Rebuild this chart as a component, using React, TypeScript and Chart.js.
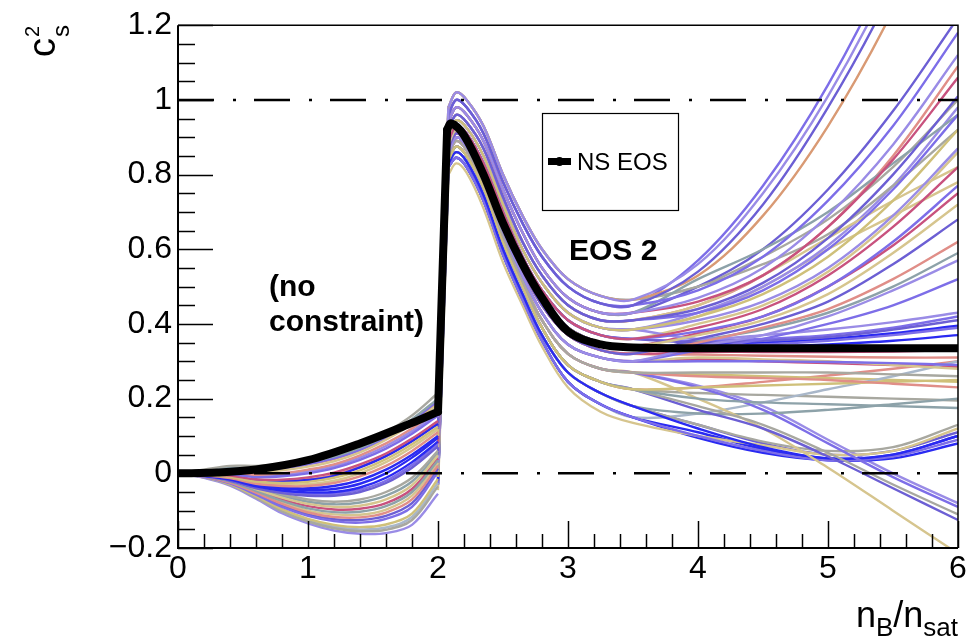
import React, { useEffect, useRef } from 'react';
import { Chart, registerables } from 'chart.js';

Chart.register(...registerables);

const FONT = '"Liberation Sans", Arial, Helvetica, sans-serif';

// ---- axes ----
const xMin = 0;
const xMax = 6;
const yMin = -0.2;
const yMax = 1.2;
const xTicks = [0, 1, 2, 3, 4, 5, 6];
const xTickLabels = ['0', '1', '2', '3', '4', '5', '6'];
const yTicks = [-0.2, 0, 0.2, 0.4, 0.6, 0.8, 1, 1.2];
const yTickLabels = ['\u22120.2', '0', '0.2', '0.4', '0.6', '0.8', '1', '1.2'];
const xMinorStep = 0.2;
const yMinorStep = 0.05;

// ---- dash-dot reference lines ----
const refLineX = [0, 6];
const refLineAtOne = [1, 1];
const refLineAtZero = [0, 0];

// ---- NS EOS (thick black) ----
const nsEosX = [0, 0.3, 0.6, 1.0, 1.4, 1.8, 2.0, 2.07, 2.1, 2.2, 2.35, 2.5, 2.65, 2.8, 3.0, 3.25, 3.5, 4.0, 5.0, 6.0];
const nsEosY = [0, 0.002, 0.01, 0.035, 0.08, 0.135, 0.165, 0.92, 0.937, 0.905, 0.8, 0.67, 0.56, 0.47, 0.38, 0.345, 0.337, 0.335, 0.335, 0.335];
const nsEosJumpStart = 6; // index where the vertical jump begins

// ---- ensemble, unconstrained region (0 - 2) ----
const lowX = [0, 0.2, 0.4, 0.6, 0.8, 1.0, 1.2, 1.4, 1.6, 1.8, 2.0];
const lowCurves = [
  [0, 0.01, 0.02, 0.02, 0.025, 0.035, 0.05, 0.075, 0.11, 0.155, 0.215],
  [0, 0.008, 0.016, 0.014, 0.018, 0.03, 0.045, 0.068, 0.1, 0.145, 0.2],
  [0, 0.006, 0.01, 0.004, 0.008, 0.018, 0.032, 0.056, 0.09, 0.132, 0.185],
  [0, 0.003, 0.004, -0.004, 0.0, 0.01, 0.024, 0.048, 0.08, 0.12, 0.17],
  [0, 0.0, -0.002, -0.01, -0.008, 0.0, 0.014, 0.036, 0.066, 0.106, 0.155],
  [0, -0.002, -0.006, -0.016, -0.017, -0.011, 0.002, 0.024, 0.053, 0.093, 0.14],
  [0, -0.004, -0.01, -0.022, -0.026, -0.023, -0.012, 0.008, 0.038, 0.078, 0.125],
  [0, -0.005, -0.013, -0.028, -0.034, -0.034, -0.026, -0.008, 0.02, 0.06, 0.11],
  [0, -0.006, -0.015, -0.032, -0.041, -0.045, -0.042, -0.028, 0.0, 0.042, 0.095],
  [0, -0.007, -0.017, -0.035, -0.046, -0.051, -0.05, -0.038, -0.012, 0.03, 0.085],
  [0, -0.008, -0.02, -0.04, -0.053, -0.06, -0.06, -0.05, -0.026, 0.015, 0.072],
  [0, -0.006, -0.016, -0.036, -0.056, -0.07, -0.076, -0.07, -0.05, -0.012, 0.06],
  [0, -0.007, -0.019, -0.042, -0.065, -0.082, -0.09, -0.087, -0.07, -0.032, 0.048],
  [0, -0.008, -0.022, -0.047, -0.074, -0.094, -0.104, -0.103, -0.088, -0.05, 0.035],
  [0, -0.009, -0.025, -0.052, -0.082, -0.105, -0.117, -0.118, -0.105, -0.07, 0.02],
  [0, -0.01, -0.027, -0.057, -0.09, -0.114, -0.128, -0.132, -0.122, -0.09, 0.004],
  [0, -0.01, -0.029, -0.061, -0.096, -0.122, -0.138, -0.144, -0.137, -0.108, -0.015],
  [0, -0.011, -0.031, -0.065, -0.102, -0.129, -0.147, -0.155, -0.151, -0.125, -0.035],
  [0, -0.012, -0.033, -0.068, -0.107, -0.134, -0.153, -0.162, -0.16, -0.138, -0.055],
  [0, 0.004, 0.008, 0.006, 0.012, 0.024, 0.04, 0.063, 0.096, 0.14, 0.195],
  [0, -0.003, -0.008, -0.019, -0.022, -0.018, -0.007, 0.016, 0.046, 0.086, 0.133],
  [0, -0.005, -0.012, -0.026, -0.03, -0.029, -0.02, 0.0, 0.03, 0.07, 0.118],
  [0, 0.007, 0.013, 0.009, 0.013, 0.024, 0.038, 0.062, 0.095, 0.138, 0.19],
  [0, 0.001, 0.0, -0.007, -0.004, 0.005, 0.019, 0.042, 0.073, 0.113, 0.162],
  [0, -0.003, -0.008, -0.019, -0.021, -0.016, -0.004, 0.018, 0.047, 0.087, 0.135],
  [0, -0.005, -0.014, -0.03, -0.038, -0.04, -0.034, -0.018, 0.01, 0.05, 0.1],
  [0, -0.007, -0.018, -0.038, -0.05, -0.056, -0.055, -0.044, -0.02, 0.022, 0.078],
  [0, -0.006, -0.017, -0.039, -0.06, -0.076, -0.083, -0.078, -0.06, -0.022, 0.054],
  [0, -0.008, -0.02, -0.045, -0.07, -0.088, -0.097, -0.095, -0.08, -0.042, 0.04],
  [0, -0.009, -0.024, -0.05, -0.078, -0.1, -0.11, -0.111, -0.097, -0.06, 0.028],
  [0, -0.01, -0.026, -0.055, -0.086, -0.11, -0.123, -0.125, -0.114, -0.08, 0.012],
  [0, -0.011, -0.03, -0.063, -0.099, -0.126, -0.143, -0.15, -0.145, -0.117, -0.025],
];

// ---- ensemble, constrained peak + high density region (2 - 6) ----
const highX = [2.0, 2.08, 2.14, 2.22, 2.35, 2.5, 2.65, 2.8, 3.0, 3.25, 3.5, 4.0, 4.5, 5.0, 5.5, 6.0];
const highJumpEnd = 1; // index where the vertical jump ends
// values at x = 2.0 ... 3.5
const peakDecay = [
  [0.21, 0.98, 1.02, 1.0, 0.93, 0.8, 0.69, 0.6, 0.52, 0.475, 0.465],
  [0.18, 0.96, 1.0, 0.98, 0.91, 0.78, 0.67, 0.58, 0.5, 0.455, 0.45],
  [0.15, 0.94, 0.98, 0.96, 0.89, 0.76, 0.645, 0.55, 0.47, 0.43, 0.43],
  [0.12, 0.92, 0.96, 0.94, 0.87, 0.74, 0.62, 0.53, 0.45, 0.41, 0.41],
  [0.1, 0.905, 0.945, 0.925, 0.85, 0.72, 0.6, 0.51, 0.43, 0.39, 0.385],
  [0.08, 0.89, 0.93, 0.91, 0.83, 0.7, 0.58, 0.49, 0.41, 0.37, 0.36],
  [0.07, 0.88, 0.92, 0.895, 0.81, 0.68, 0.56, 0.47, 0.39, 0.35, 0.34],
  [0.05, 0.87, 0.91, 0.885, 0.8, 0.665, 0.545, 0.45, 0.37, 0.33, 0.32],
  [0.03, 0.86, 0.9, 0.875, 0.79, 0.65, 0.53, 0.43, 0.345, 0.31, 0.3],
  [0.01, 0.85, 0.89, 0.865, 0.78, 0.635, 0.515, 0.41, 0.32, 0.28, 0.27],
  [-0.01, 0.84, 0.875, 0.85, 0.765, 0.62, 0.5, 0.39, 0.29, 0.245, 0.225],
  [-0.02, 0.83, 0.86, 0.835, 0.745, 0.6, 0.48, 0.37, 0.27, 0.215, 0.18],
  [-0.03, 0.82, 0.845, 0.82, 0.73, 0.585, 0.465, 0.355, 0.245, 0.185, 0.15],
  [-0.045, 0.8, 0.83, 0.805, 0.71, 0.565, 0.45, 0.34, 0.23, 0.165, 0.135],
];
// which peak/decay each curve follows
const tailPick = [
  0, 1, 0, 1, 2, 2, 3, 3, 4, 4, 5, 5, 6, 7, 7, 8, 8, 2, 3, 0, 6, 5, 4, 6, 7, 7, 8, 8, 9, 9, 10, 10, 9, 10, 10, 9, 11, 12, 13, 11, 12, 11, 12,
  1, 2, 3, 4, 5, 6, 7, 6, 5, 8, 9, 10, 9, 11, 12, 4, 10, 0,
];
// values at x = 4.0, 4.5, 5.0, 5.5, 6.0
const tailValues = [
  [0.56, 0.75, 1.01, 1.34, 1.75],
  [0.54, 0.72, 0.98, 1.3, 1.7],
  [0.53, 0.69, 0.93, 1.24, 1.62],
  [0.49, 0.58, 0.73, 0.93, 1.18],
  [0.47, 0.55, 0.69, 0.88, 1.12],
  [0.46, 0.53, 0.66, 0.84, 1.06],
  [0.44, 0.51, 0.63, 0.8, 1.01],
  [0.43, 0.49, 0.6, 0.76, 0.96],
  [0.42, 0.48, 0.58, 0.73, 0.92],
  [0.41, 0.46, 0.55, 0.69, 0.87],
  [0.39, 0.44, 0.53, 0.66, 0.82],
  [0.38, 0.42, 0.5, 0.62, 0.77],
  [0.37, 0.41, 0.48, 0.59, 0.72],
  [0.36, 0.4, 0.46, 0.56, 0.68],
  [0.35, 0.39, 0.44, 0.52, 0.62],
  [0.34, 0.37, 0.42, 0.49, 0.57],
  [0.33, 0.36, 0.4, 0.45, 0.52],
  [0.52, 0.6, 0.7, 0.83, 0.96],
  [0.45, 0.53, 0.63, 0.73, 0.82],
  [0.5, 0.56, 0.64, 0.77, 0.92],
  [0.34, 0.345, 0.355, 0.37, 0.39],
  [0.35, 0.355, 0.365, 0.385, 0.41],
  [0.36, 0.37, 0.385, 0.405, 0.43],
  [0.335, 0.338, 0.345, 0.355, 0.37],
  [0.325, 0.325, 0.325, 0.326, 0.33],
  [0.318, 0.315, 0.312, 0.31, 0.31],
  [0.3, 0.3, 0.298, 0.295, 0.29],
  [0.31, 0.305, 0.3, 0.29, 0.28],
  [0.27, 0.27, 0.27, 0.265, 0.26],
  [0.26, 0.255, 0.25, 0.24, 0.23],
  [0.23, 0.235, 0.24, 0.245, 0.25],
  [0.2, 0.19, 0.185, 0.18, 0.175],
  [0.23, 0.17, 0.08, -0.01, -0.09],
  [0.18, 0.13, 0.055, -0.03, -0.11],
  [0.17, 0.12, 0.045, -0.04, -0.125],
  [0.2, 0.12, 0.015, -0.1, -0.215],
  [0.12, 0.07, 0.04, 0.05, 0.1],
  [0.1, 0.06, 0.035, 0.045, 0.09],
  [0.1, 0.075, 0.05, 0.06, 0.12],
  [0.13, 0.085, 0.06, 0.07, 0.13],
  [0.095, 0.055, 0.035, 0.04, 0.08],
  [0.16, 0.16, 0.17, 0.185, 0.2],
  [0.16, 0.19, 0.225, 0.26, 0.3],
  [0.57, 0.77, 1.04, 1.38, 1.8],
  [0.5, 0.6, 0.76, 0.97, 1.22],
  [0.45, 0.53, 0.66, 0.85, 1.09],
  [0.43, 0.5, 0.61, 0.77, 0.98],
  [0.4, 0.45, 0.54, 0.68, 0.86],
  [0.375, 0.42, 0.5, 0.61, 0.75],
  [0.355, 0.385, 0.43, 0.5, 0.59],
  [0.345, 0.35, 0.36, 0.375, 0.395],
  [0.355, 0.36, 0.37, 0.39, 0.42],
  [0.305, 0.3, 0.295, 0.29, 0.285],
  [0.265, 0.26, 0.255, 0.25, 0.245],
  [0.215, 0.21, 0.205, 0.2, 0.195],
  [0.235, 0.18, 0.09, 0.0, -0.08],
  [0.13, 0.08, 0.05, 0.06, 0.11],
  [0.11, 0.065, 0.04, 0.05, 0.1],
  [0.42, 0.5, 0.6, 0.69, 0.78],
  [0.23, 0.245, 0.262, 0.28, 0.3],
  [0.5, 0.58, 0.68, 0.82, 1.0],
];

// ---- styles ----
const palette = ['#7d6ee8', '#8da2a9', '#d6c58e', '#e08e88', '#2a2af2', '#c8527e', '#9a8ce6', '#a8a8a0', '#d99a74', '#6c5fd4', '#cfc07a', '#a9b7c9'];
const lowColors = [7, 1, 2, 3, 0, 5, 10, 3, 4, 4, 9, 7, 2, 1, 3, 0, 10, 7, 6, 0, 4, 2, 8, 6, 3, 4, 0, 1, 5, 2, 9, 11];
const highColors = [
  6, 9, 8, 0, 6, 5, 9, 0, 10, 6, 5, 0, 2, 9, 3, 6, 0, 1, 2, 7, 0, 9, 6, 4, 5, 3, 0, 2, 7, 3, 10, 1, 0, 7, 9, 2, 4, 0, 2, 7, 4, 1, 11,
  0, 9, 3, 6, 2, 5, 1, 4, 0, 5, 10, 7, 6, 9, 4, 2, 3, 7,
];

const pts = (xs: number[], ys: number[]) => xs.map((x, i) => ({ x, y: ys[i] }));

const decorPlugin = {
  id: 'decor',
  afterDatasetsDraw(chart: any) {
    const { ctx, chartArea: a, scales } = chart;
    const xs = scales.x;
    const ys = scales.y;
    ctx.save();
    ctx.strokeStyle = '#000';
    ctx.lineWidth = 1.5;
    ctx.beginPath();
    ctx.moveTo(a.left, a.top);
    ctx.lineTo(a.right, a.top);
    ctx.lineTo(a.right, a.bottom);
    ctx.stroke();
    ctx.lineWidth = 2;
    ctx.beginPath();
    ctx.moveTo(a.left, a.top);
    ctx.lineTo(a.left, a.bottom);
    ctx.lineTo(a.right, a.bottom);
    ctx.stroke();
    ctx.lineWidth = 1.5;
    const nY = Math.round((yMax - yMin) / yMinorStep);
    for (let i = 0; i <= nY; i++) {
      const py = Math.round(ys.getPixelForValue(yMin + i * yMinorStep)) + 0.5;
      const len = i % 4 === 0 ? 35 : 17;
      ctx.beginPath();
      ctx.moveTo(a.left, py);
      ctx.lineTo(a.left + len, py);
      ctx.stroke();
    }
    const nX = Math.round((xMax - xMin) / xMinorStep);
    for (let i = 0; i <= nX; i++) {
      const px = Math.round(xs.getPixelForValue(xMin + i * xMinorStep)) + 0.5;
      const len = i % 5 === 0 ? 27 : 14;
      ctx.beginPath();
      ctx.moveTo(px, a.bottom);
      ctx.lineTo(px, a.bottom - len);
      ctx.stroke();
    }
    ctx.restore();
  },
  afterDraw(chart: any) {
    const { ctx } = chart;
    ctx.save();
    ctx.fillStyle = '#000';
    ctx.textBaseline = 'alphabetic';
    ctx.font = `bold 30px ${FONT}`;
    ctx.fillText('EOS 2', 569, 260);
    ctx.fillText('(no', 269, 296);
    ctx.fillText('constraint)', 269, 331);
    // legend
    ctx.strokeStyle = '#000';
    ctx.lineWidth = 1.2;
    ctx.strokeRect(542.5, 113.5, 136, 97);
    ctx.lineWidth = 7;
    ctx.beginPath();
    ctx.moveTo(548, 161.5);
    ctx.lineTo(571, 161.5);
    ctx.stroke();
    ctx.beginPath();
    ctx.arc(559.5, 161.5, 4.5, 0, Math.PI * 2);
    ctx.fill();
    ctx.font = `24px ${FONT}`;
    ctx.fillText('NS EOS', 577, 170);
    // y title c_s^2 (rotated)
    ctx.save();
    ctx.translate(55, 57);
    ctx.rotate(-Math.PI / 2);
    ctx.font = `38px ${FONT}`;
    ctx.fillText('c', 0, 0);
    const cw = ctx.measureText('c').width;
    ctx.font = `20px ${FONT}`;
    ctx.fillText('2', cw + 1, -16);
    ctx.font = `24px ${FONT}`;
    ctx.fillText('s', cw + 1, 14);
    ctx.restore();
    // x title n_B/n_sat
    const parts: [string, number, number][] = [
      ['n', 36, 0],
      ['B', 26, 9],
      ['/', 36, 0],
      ['n', 36, 0],
      ['sat', 26, 9],
    ];
    let total = 0;
    for (const [t, s] of parts) {
      ctx.font = `${s}px ${FONT}`;
      total += ctx.measureText(t).width;
    }
    let x = 958 - total;
    for (const [t, s, dy] of parts) {
      ctx.font = `${s}px ${FONT}`;
      ctx.fillText(t, x, 627 + dy);
      x += ctx.measureText(t).width;
    }
    ctx.restore();
  },
};

export default function App() {
  const canvasRef = useRef<HTMLCanvasElement | null>(null);

  useEffect(() => {
    const canvas = canvasRef.current;
    if (!canvas) return;
    const datasets: any[] = [];
    const TENSION = 0.35;
    const WIDTH = 2.4;

    const black = (xs: number[], ys: number[], tension: number) => ({
      data: pts(xs, ys),
      borderColor: '#000',
      borderWidth: 8,
      tension,
      borderJoinStyle: 'round',
      borderCapStyle: 'round',
      order: 0,
    });
    datasets.push(black(nsEosX.slice(0, nsEosJumpStart + 1), nsEosY.slice(0, nsEosJumpStart + 1), TENSION));
    datasets.push(black(nsEosX.slice(nsEosJumpStart, nsEosJumpStart + 2), nsEosY.slice(nsEosJumpStart, nsEosJumpStart + 2), 0));
    datasets.push(black(nsEosX.slice(nsEosJumpStart + 1), nsEosY.slice(nsEosJumpStart + 1), TENSION));

    const dashed = (ys: number[]) => ({
      data: pts(refLineX, ys),
      borderColor: '#000',
      borderWidth: 2.5,
      borderDash: [36, 19, 3, 18],
      tension: 0,
      order: 1,
    });
    datasets.push(dashed(refLineAtOne));
    datasets.push(dashed(refLineAtZero));

    lowCurves.forEach((c, i) => {
      datasets.push({
        data: pts(lowX, c),
        borderColor: palette[lowColors[i % lowColors.length]],
        borderWidth: WIDTH,
        tension: TENSION,
        order: 2,
      });
    });
    tailValues.forEach((t, i) => {
      const ys = [...peakDecay[tailPick[i]], ...t];
      const color = palette[highColors[i % highColors.length]];
      datasets.push({
        data: pts(highX.slice(0, highJumpEnd + 1), ys.slice(0, highJumpEnd + 1)),
        borderColor: color,
        borderWidth: WIDTH,
        tension: 0,
        order: 2,
      });
      datasets.push({
        data: pts(highX.slice(highJumpEnd), ys.slice(highJumpEnd)),
        borderColor: color,
        borderWidth: WIDTH,
        tension: TENSION,
        order: 2,
      });
    });

    const labelFor = (vals: number[], labels: string[]) => (v: any) => {
      const k = vals.findIndex((t) => Math.abs(t - Number(v)) < 1e-9);
      return k >= 0 ? labels[k] : '';
    };

    const chart = new Chart(canvas, {
      type: 'line',
      data: { datasets },
      options: {
        animation: false,
        responsive: false,
        events: [],
        layout: { padding: { left: 0, right: 15, top: 22, bottom: 0 } },
        elements: { point: { radius: 0 }, line: { fill: false, capBezierPoints: false } },
        plugins: { legend: { display: false }, tooltip: { enabled: false } },
        scales: {
          x: {
            type: 'linear',
            min: xMin,
            max: xMax,
            grid: { display: false, drawTicks: false },
            border: { display: false },
            ticks: {
              color: '#000',
              font: { family: FONT, size: 32 },
              padding: 2,
              maxRotation: 0,
              autoSkip: false,
              callback: labelFor(xTicks, xTickLabels),
            },
            afterBuildTicks: (s: any) => {
              s.ticks = xTicks.map((v) => ({ value: v }));
            },
            afterFit: (s: any) => {
              s.height = 96;
            },
          },
          y: {
            type: 'linear',
            min: yMin,
            max: yMax,
            grid: { display: false, drawTicks: false },
            border: { display: false },
            ticks: {
              color: '#000',
              font: { family: FONT, size: 32 },
              padding: 6,
              autoSkip: false,
              callback: labelFor(yTicks, yTickLabels),
            },
            afterBuildTicks: (s: any) => {
              s.ticks = yTicks.map((v) => ({ value: v }));
            },
            afterFit: (s: any) => {
              s.width = 178;
            },
          },
        },
      },
      plugins: [decorPlugin],
    } as any);
    return () => chart.destroy();
  }, []);

  return (
    <div style={{ position: 'fixed', left: 0, top: 0, width: 973, height: 644, background: '#fff' }}>
      <canvas ref={canvasRef} width={973} height={644} style={{ display: 'block' }} />
    </div>
  );
}
